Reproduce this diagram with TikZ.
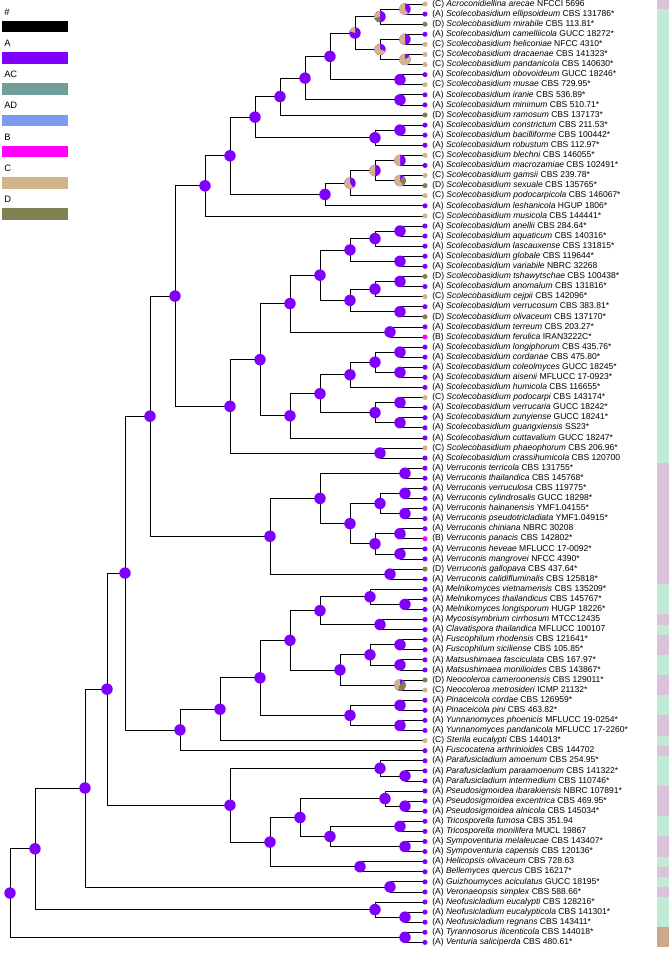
\documentclass[tikz,border=0pt]{standalone}
\usepackage{fontspec}
\setmainfont{Liberation Sans}
\usetikzlibrary{calc}
\definecolor{StA}{RGB}{128,0,255}
\definecolor{StAC}{RGB}{112,158,152}
\definecolor{StAD}{RGB}{125,155,240}
\definecolor{StB}{RGB}{255,0,255}
\definecolor{StC}{RGB}{210,180,140}
\definecolor{StD}{RGB}{128,128,80}
\definecolor{StripG}{RGB}{192,234,212}
\definecolor{StripP}{RGB}{218,194,218}
\definecolor{StripT}{RGB}{205,168,138}
\pgfdeclarelayer{bg}
\pgfsetlayers{bg,main}
\tikzset{
  branch/.style={draw=black,line width=0.55pt},
  leaf/.style={anchor=west,inner sep=0pt,font=\fontsize{6.4}{7}\selectfont},
  legtext/.style={anchor=west,inner sep=0pt,font=\fontsize{7}{8}\selectfont},
}
% clade: name, child, child, x
\newcommand\clade[4]{%
  \coordinate (tmp) at ($(#2)!.5!(#3)$);
  \coordinate (#1) at (tmp -| #4,0);
  \begin{pgfonlayer}{bg}\draw[branch] (#1) |- (#2) (#1) |- (#3);\end{pgfonlayer}
  \fill[StA] (#1) circle (4.3pt);}
% pie on a clade: name, share of C, share of D
\newcommand\piec[3]{%
  \fill[StC] (#1) -- ++(90:4.3pt) arc[start angle=90,delta angle={#2*360},radius=4.3pt] -- cycle;
  \fill[StD] (#1) -- ++({90+#2*360}:4.3pt) arc[start angle={90+#2*360},delta angle={#3*360},radius=4.3pt] -- cycle;}

\begin{document}
\begin{tikzpicture}[x=0.75pt,y=-0.75pt]
\useasboundingbox (0,0) rectangle (669,956);
% legend
\foreach \k/\lab/\col [count=\j from 0] in {0/\#/black,1/A/StA,2/AC/StAC,3/AD/StAD,4/B/StB,5/C/StC,6/D/StD}{
  \node[legtext] (lg\k) at (4,{12+\j*31.2}) {\lab};
  \fill[\col] (2,{21+\j*31.2}) rectangle (68,{32.5+\j*31.2});
}
% side strip
\foreach \a/\b/\col in {1/1/StripP,2/46/StripG,47/58/StripP,59/61/StripG,62/62/StripP,63/63/StripG,
  64/65/StripP,66/67/StripG,68/69/StripP,70/71/StripG,72/73/StripP,74/74/StripG,75/75/StripP,
  76/78/StripG,79/81/StripP,82/83/StripG,84/85/StripP,86/86/StripG,87/87/StripP,88/88/StripG,
  89/89/StripP,90/92/StripG,93/94/StripT}{
  \fill[\col] (657,{4+(\a-1)*10.09-5.045}) rectangle (669,{4+(\b-1)*10.09+5.045});
}
% leaves
\foreach \i in {1,...,94}
  \coordinate (l\i) at (425,{4+(\i-1)*10.09});
\foreach \i/\s/\n/\c in {
1/C/Acroconidiellina arecae/NFCCI 5696,
2/A/Scolecobasidium ellipsoideum/CBS 131786*,
3/D/Scolecobasidium mirabile/CBS 113.81*,
4/A/Scolecobasidium camelliicola/GUCC 18272*,
5/C/Scolecobasidium heliconiae/NFCC 4310*,
6/C/Scolecobasidium dracaenae/CBS 141323*,
7/C/Scolecobasidium pandanicola/CBS 140630*,
8/A/Scolecobasidium obovoideum/GUCC 18246*,
9/C/Scolecobasidium musae/CBS 729.95*,
10/A/Scolecobasidium iranie/CBS 536.89*,
11/A/Scolecobasidium minimum/CBS 510.71*,
12/D/Scolecobasidium ramosum/CBS 137173*,
13/A/Scolecobasidium constrictum/CBS 211.53*,
14/A/Scolecobasidium bacilliforme/CBS 100442*,
15/A/Scolecobasidium robustum/CBS 112.97*,
16/C/Scolecobasidium blechni/CBS 146055*,
17/A/Scolecobasidium macrozamiae/CBS 102491*,
18/C/Scolecobasidium gamsii/CBS 239.78*,
19/D/Scolecobasidium sexuale/CBS 135765*,
20/C/Scolecobasidium podocarpicola/CBS 146067*,
21/A/Scolecobasidium leshanicola/HGUP 1806*,
22/C/Scolecobasidium musicola/CBS 144441*,
23/A/Scolecobasidium anellii/CBS 284.64*,
24/A/Scolecobasidium aquaticum/CBS 140316*,
25/A/Scolecobasidium lascauxense/CBS 131815*,
26/A/Scolecobasidium globale/CBS 119644*,
27/A/Scolecobasidium variabile/NBRC 32268,
28/D/Scolecobasidium tshawytschae/CBS 100438*,
29/A/Scolecobasidium anomalum/CBS 131816*,
30/C/Scolecobasidium cejpii/CBS 142096*,
31/A/Scolecobasidium verrucosum/CBS 383.81*,
32/D/Scolecobasidium olivaceum/CBS 137170*,
33/A/Scolecobasidium terreum/CBS 203.27*,
34/B/Scolecobasidium ferulica/IRAN3222C*,
35/A/Scolecobasidium longiphorum/CBS 435.76*,
36/A/Scolecobasidium cordanae/CBS 475.80*,
37/A/Scolecobasidium coleolmyces/GUCC 18245*,
38/A/Scolecobasidium aisenii/MFLUCC 17-0923*,
39/A/Scolecobasidium humicola/CBS 116655*,
40/C/Scolecobasidium podocarpi/CBS 143174*,
41/A/Scolecobasidium verrucaria/GUCC 18242*,
42/A/Scolecobasidium zunyiense/GUCC 18241*,
43/A/Scolecobasidium guangxiensis/SS23*,
44/A/Scolecobasidium cuttavalium/GUCC 18247*,
45/C/Scolecobasidium phaeophorum/CBS 206.96*,
46/A/Scolecobasidium crassihumicola/CBS 120700,
47/A/Verruconis terricola/CBS 131755*,
48/A/Verruconis thailandica/CBS 145768*,
49/A/Verruconis verruculosa/CBS 119775*,
50/A/Verruconis cylindrosalis/GUCC 18298*,
51/A/Verruconis hainanensis/YMF1.04155*,
52/A/Verruconis pseudotricladiata/YMF1.04915*,
53/A/Verruconis chiniana/NBRC 30208,
54/B/Verruconis panacis/CBS 142802*,
55/A/Verruconis heveae/MFLUCC 17-0092*,
56/A/Verruconis mangrovei/NFCC 4390*,
57/D/Verruconis gallopava/CBS 437.64*,
58/A/Verruconis calidifluminalis/CBS 125818*,
59/A/Melnikomyces vietnamensis/CBS 135209*,
60/A/Melnikomyces thailandicus/CBS 145767*,
61/A/Melnikomyces longisporum/HUGP 18226*,
62/A/Mycosisymbrium cirrhosum/MTCC12435,
63/A/Clavatispora thailandica/MFLUCC 100107,
64/A/Fuscophilum rhodensis/CBS 121641*,
65/A/Fuscophilum siciliense/CBS 105.85*,
66/A/Matsushimaea fasciculata/CBS 167.97*,
67/A/Matsushimaea monilioides/CBS 143867*,
68/D/Neocoleroa cameroonensis/CBS 129011*,
69/C/Neocoleroa metrosideri/ICMP 21132*,
70/A/Pinaceicola cordae/CBS 126959*,
71/A/Pinaceicola pini/CBS 463.82*,
72/A/Yunnanomyces phoenicis/MFLUCC 19-0254*,
73/A/Yunnanomyces pandanicola/MFLUCC 17-2260*,
74/C/Sterila eucalypti/CBS 144013*,
75/A/Fuscocatena arthrinioides/CBS 144702,
76/A/Parafusicladium amoenum/CBS 254.95*,
77/A/Parafusicladium paraamoenum/CBS 141322*,
78/A/Parafusicladium intermedium/CBS 110746*,
79/A/Pseudosigmoidea ibarakiensis/NBRC 107891*,
80/A/Pseudosigmoidea excentrica/CBS 469.95*,
81/A/Pseudosigmoidea alnicola/CBS 145034*,
82/A/Tricosporella fumosa/CBS 351.94,
83/A/Tricosporella monilifera/MUCL 19867,
84/A/Sympoventuria melaleucae/CBS 143407*,
85/A/Sympoventuria capensis/CBS 120136*,
86/A/Helicopsis olivaceum/CBS 728.63,
87/A/Bellemyces quercus/CBS 16217*,
88/A/Guizhoumyces aciculatus/GUCC 18195*,
89/A/Veronaeopsis simplex/CBS 588.66*,
90/A/Neofusicladium eucalypti/CBS 128216*,
91/A/Neofusicladium eucalypticola/CBS 141301*,
92/A/Neofusicladium regnans/CBS 143411*,
93/A/Tyrannosorus ilicenticola/CBS 144018*,
94/A/Venturia saliciperda/CBS 480.61*}{
  \fill[St\s] (l\i) circle (1.9pt);
  \node[leaf] (t\i) at ($(l\i)+(7,0)$) {(\s) \textit{\n} \c};
}
% Scolecobasidium part
\clade{sa}{l1}{l2}{405}
\clade{sb}{sa}{l3}{380}
\clade{sc}{l4}{l5}{405}
\clade{sd}{l6}{l7}{405}
\clade{se}{sc}{sd}{380}
\clade{sf}{sb}{se}{355}
\clade{sg}{l8}{l9}{400}
\clade{sh}{sf}{sg}{330}
\clade{si}{l10}{l11}{400}
\clade{sj}{sh}{si}{305}
\clade{sk}{sj}{l12}{280}
\clade{sl}{l13}{l14}{400}
\clade{sm}{sl}{l15}{375}
\clade{sn}{sk}{sm}{255}
\clade{so}{l16}{l17}{400}
\clade{sp}{l18}{l19}{400}
\clade{sq}{so}{sp}{375}
\clade{sr}{sq}{l20}{350}
\clade{ss}{sr}{l21}{325}
\clade{st}{sn}{ss}{230}
\clade{su}{st}{l22}{205}
\clade{ta}{l23}{l24}{400}
\clade{tb}{ta}{l25}{375}
\clade{tc}{l26}{l27}{400}
\clade{td}{tb}{tc}{350}
\clade{te}{l28}{l29}{400}
\clade{tf}{te}{l30}{375}
\clade{tg}{l31}{l32}{400}
\clade{th}{tf}{tg}{350}
\clade{ti}{td}{th}{320}
\clade{tj}{l33}{l34}{390}
\clade{tk}{ti}{tj}{290}
\clade{tl}{l35}{l36}{400}
\clade{tm}{l37}{l38}{400}
\clade{tn}{tl}{tm}{375}
\clade{to}{tn}{l39}{350}
\clade{tp}{l40}{l41}{400}
\clade{tq}{l42}{l43}{400}
\clade{tr}{tp}{tq}{375}
\clade{ts}{to}{tr}{320}
\clade{tt}{ts}{l44}{290}
\clade{tu}{tk}{tt}{260}
\clade{tv}{l45}{l46}{380}
\clade{tw}{tu}{tv}{230}
\clade{sco}{su}{tw}{175}
% mixed states near the top
\piec{sa}{0.6}{0}
\piec{sb}{0.3}{0.2}
\piec{sc}{0.5}{0}
\piec{sd}{0.85}{0}
\piec{se}{0.7}{0}
\piec{sf}{0.2}{0}
\piec{so}{0.5}{0}
\piec{sp}{0.6}{0.3}
\piec{sq}{0.5}{0}
\piec{sr}{0.6}{0}
% Verruconis
\clade{va}{l47}{l48}{405}
\clade{vb}{l49}{l50}{405}
\clade{vc}{l51}{l52}{405}
\clade{vd}{vb}{vc}{380}
\clade{ve}{l53}{l54}{400}
\clade{vf}{l55}{l56}{400}
\clade{vg}{ve}{vf}{375}
\clade{vh}{vd}{vg}{350}
\clade{vi}{va}{vh}{320}
\clade{vj}{l57}{l58}{390}
\clade{vk}{vi}{vj}{270}
% middle genera
\clade{mea}{l60}{l61}{405}
\clade{me}{l59}{mea}{370}
\clade{mc}{l62}{l63}{380}
\clade{mi1}{me}{mc}{320}
\clade{fu}{l64}{l65}{400}
\clade{ma}{l66}{l67}{400}
\clade{ne}{l68}{l69}{400}
\clade{mi2}{fu}{ma}{370}
\clade{mi3}{mi2}{ne}{340}
\clade{mi4}{mi1}{mi3}{290}
\clade{pi}{l70}{l71}{400}
\clade{yu}{l72}{l73}{400}
\clade{mi5}{pi}{yu}{350}
\clade{mi6}{mi4}{mi5}{260}
\clade{mi7}{mi6}{l74}{220}
\clade{mi8}{mi7}{l75}{180}
\piec{ne}{0.45}{0.45}
% lower genera
\clade{pfa}{l77}{l78}{405}
\clade{pf}{l76}{pfa}{380}
\clade{psa}{l80}{l81}{405}
\clade{ps}{l79}{psa}{385}
\clade{trc}{l82}{l83}{400}
\clade{sy}{l84}{l85}{405}
\clade{hb}{l86}{l87}{360}
\clade{lo1}{trc}{sy}{330}
\clade{lo2}{ps}{lo1}{300}
\clade{lo3}{lo2}{hb}{270}
\clade{lo4}{pf}{lo3}{230}
\clade{gv}{l88}{l89}{390}
\clade{nfa}{l91}{l92}{405}
\clade{nf}{l90}{nfa}{375}
\clade{og}{l93}{l94}{405}
% backbone
\clade{b1}{sco}{vk}{150}
\clade{b2}{b1}{mi8}{125}
\clade{b3}{b2}{lo4}{107}
\clade{b4}{b3}{gv}{85}
\clade{b5}{b4}{nf}{35}
\clade{root}{b5}{og}{10}
\end{tikzpicture}
\end{document}
